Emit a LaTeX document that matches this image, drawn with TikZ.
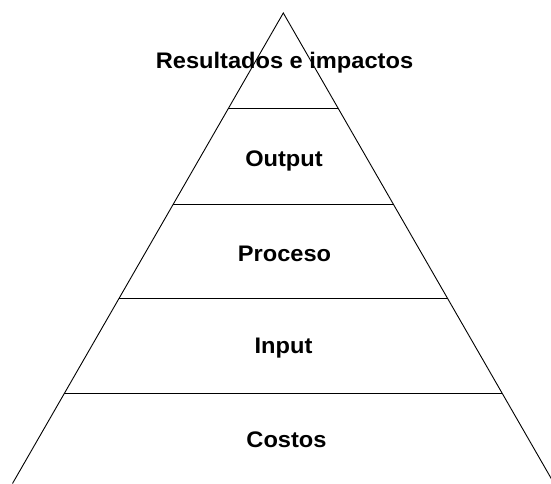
\documentclass[tikz,border=0pt]{standalone}
\usepackage{fontspec}
\setmainfont{Liberation Sans}
\usetikzlibrary{calc}
\begin{document}
\begin{tikzpicture}[x=1pt,y=-1pt,
  edge/.style={draw=black,line width=0.9pt},
  layerlabel/.style={font=\fontsize{22.5}{24}\selectfont\bfseries,anchor=base,inner sep=0pt,xscale=1.05}]
  \useasboundingbox (0,0) rectangle (551,484);
  \clip (0,0) rectangle (551,484);
  % pyramid outline (no base line)
  \coordinate (apex) at (283.3,13);
  \coordinate (bl) at (12.5,483.5);
  \coordinate (br) at (554.1,483.5);
  \draw[edge] (bl) -- (apex) -- (br);
  % layer dividers
  \foreach \yy/\nm in {108.3/a,204/b,298.3/c,393.5/d}{
    \pgfmathsetmacro{\tt}{(\yy-13)/470.5}
    \coordinate (l\nm) at ($(apex)!\tt!(bl)$);
    \coordinate (r\nm) at ($(apex)!\tt!(br)$);
    \draw[edge] (l\nm) -- (r\nm);
  }
  % layer labels
  \node[layerlabel] (t1) at (284.5,68.3) {Resultados e impactos};
  \node[layerlabel] (t2) at (284,166) {Output};
  \node[layerlabel] (t3) at (284.5,261) {Proceso};
  \node[layerlabel] (t4) at (283.5,353.5) {Input};
  \node[layerlabel] (t5) at (286.5,447.8) {Costos};
\end{tikzpicture}
\end{document}
